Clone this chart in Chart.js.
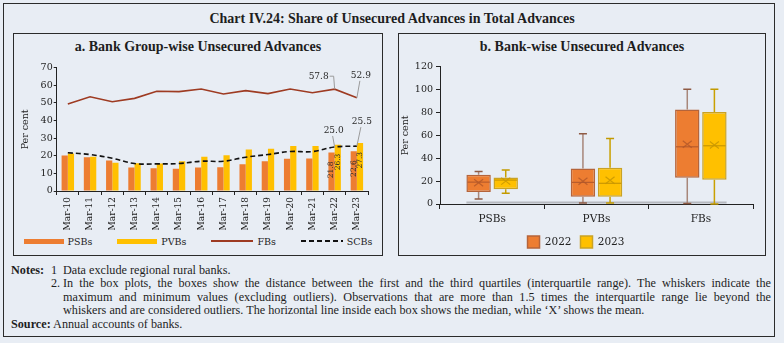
<!DOCTYPE html>
<html>
<head>
<meta charset="utf-8">
<script src="https://cdn.jsdelivr.net/npm/chart.js@4.4.0/dist/chart.umd.min.js"></script>
<style>
  html, body { margin: 0; padding: 0; background: #e8edf4; }
  #page { position: relative; width: 784px; height: 343px; background: #e8edf4; overflow: hidden; font-family: 'Liberation Serif', serif; color: #1e1e1e; }
  #frame { position: absolute; left: 3px; top: 3px; width: 772px; height: 334px; border: 1.5px solid #2b2b2b; box-sizing: border-box; }
  #title { position: absolute; left: 0; top: 11px; width: 784px; text-align: center; font-weight: bold; font-size: 14px; }
  .panel { position: absolute; top: 33px; height: 223px; border: 1.5px solid #2b2b2b; box-sizing: border-box; }
  .panel h2 { margin: 0; position: absolute; left: 0; right: 0; top: 5px; text-align: center; font-size: 14px; font-weight: bold; }
  #panelA { left: 13px; width: 370px; }
  #panelB { left: 398px; width: 368px; }
  .wrap { position: absolute; }
  #wrapA { left: 14px; top: 58px; width: 368px; height: 173px; }
  #wrapB { left: 399px; top: 58px; width: 366px; height: 200px; }
  #legendA { position: absolute; left: 14px; top: 234px; width: 368px; height: 14px; display: flex; justify-content: center; align-items: center;
      font-family: 'DejaVu Serif', serif; font-size: 9.5px; color: #222; }
  #legendA .item { display: flex; align-items: center; margin: 0 12.5px; }
  #legendA .item span.txt { margin-left: 4px; }
  #notes { position: absolute; left: 11px; top: 264px; width: 760px; font-size: 12.2px; line-height: 13.4px; }
  .row { display: flex; white-space: nowrap; }
  .lead { width: 40px; font-weight: bold; }
  .num { width: 12px; }
  .txt { flex: 1; }
  .just { text-align: justify; text-align-last: justify; white-space: normal; }
</style>
</head>
<body>
<div id="page">
  <div id="frame"></div>
  <div id="title">Chart IV.24: Share of Unsecured Advances in Total Advances</div>

  <div class="panel" id="panelA"><h2>a. Bank Group-wise Unsecured Advances</h2></div>
  <div class="panel" id="panelB"><h2>b. Bank-wise Unsecured Advances</h2></div>

  <div class="wrap" id="wrapA"><canvas id="groupChart"></canvas></div>
  <div id="legendA"></div>
  <div class="wrap" id="wrapB"><canvas id="bankChart"></canvas></div>

  <div id="notes">
    <div class="row"><span class="lead">Notes:</span><span class="num">1</span><span class="txt">Data exclude regional rural banks.</span></div>
    <div class="row"><span class="lead"></span><span class="num">2.</span><span class="txt just">In the box plots, the boxes show the distance between the first and the third quartiles (interquartile range). The whiskers indicate the</span></div>
    <div class="row"><span class="lead"></span><span class="num"></span><span class="txt just">maximum and minimum values (excluding outliers). Observations that are more than 1.5 times the interquartile range lie beyond the</span></div>
    <div class="row"><span class="lead"></span><span class="num"></span><span class="txt">whiskers and are considered outliers. The horizontal line inside each box shows the median, while ‘X’ shows the mean.</span></div>
    <div class="row"><span><b>Source:</b> Annual accounts of banks.</span></div>
  </div>
</div>

<script>
// a. bank group-wise shares (per cent)
const years = ['Mar-10', 'Mar-11', 'Mar-12', 'Mar-13', 'Mar-14', 'Mar-15', 'Mar-16',
    'Mar-17', 'Mar-18', 'Mar-19', 'Mar-20', 'Mar-21', 'Mar-22', 'Mar-23'];
const psbs = [20.1, 19.1, 17.3, 13.3, 12.9, 12.7, 13.3, 13.5, 15.2, 16.9, 18.3, 18.5, 21.8, 22.6];
const pvbs = [21.3, 19.5, 16.0, 15.8, 15.6, 16.9, 19.5, 20.3, 23.6, 24.0, 25.5, 25.5, 26.3, 27.3];
const fbs = [49.4, 53.5, 50.7, 52.6, 56.6, 56.4, 57.9, 55.1, 57.0, 55.3, 57.9, 55.8, 57.8, 52.9];
const scbs = [21.7, 20.7, 18.6, 15.6, 15.4, 15.6, 16.9, 16.9, 19.2, 20.7, 22.4, 22.4, 25.0, 25.5];
const groupTicks = [0, 10, 20, 30, 40, 50, 60, 70];

// b. bank-wise distribution (per cent)
const bankCats = ['PSBs', 'PVBs', 'FBs'];
const min22 = [4.3, 0.8, 0.5];
const q1_22 = [10.4, 6.3, 23.0];
const med22 = [19.1, 18.9, 50.0];
const q3_22 = [25.5, 31.0, 82.5];
const max22 = [28.4, 61.5, 100.3];
const mean22 = [18.5, 19.8, 52.3];
const min23 = [9.3, 0.8, 0.0];
const q1_23 = [12.8, 6.3, 21.3];
const med23 = [20.9, 18.1, 50.9];
const q3_23 = [23.2, 31.6, 80.4];
const max23 = [29.8, 57.2, 100.3];
const mean23 = [20.0, 20.7, 51.5];
const bankTicks = [0, 20, 40, 60, 80, 100, 120];

const ORANGE = '#ED7D31';
const GOLD = '#FFC000';
const FB_RED = '#9E3B22';
const INK = '#222';

Chart.defaults.font.family = "'DejaVu Serif', serif";
Chart.defaults.color = INK;
Chart.defaults.animation = false;

// callouts on the line series: [dataset label, index, dx, dy, leader style]
const callouts = [
    ['FBs', 12, -16, -13, 'elbow'],
    ['FBs', 13, 4, -22, 'straight'],
    ['SCBs', 12, -1, -16, 'straight'],
    ['SCBs', 13, 5, -24, 'straight'],
];

const groupLabels = {
    id: 'groupLabels',
    afterDatasetsDraw(chart) {
        const { ctx } = chart;
        ctx.save();

        // rotated values inside the last two pairs of bars
        ctx.font = "7.5px 'DejaVu Serif', serif";
        ctx.fillStyle = '#2a2a2a';
        ctx.textAlign = 'right';
        ctx.textBaseline = 'middle';
        chart.data.datasets.forEach((ds, d) => {
            if (ds.type === 'line') return;
            const meta = chart.getDatasetMeta(d);
            [12, 13].forEach(i => {
                const bar = meta.data[i];
                ctx.save();
                ctx.translate(bar.x, bar.y + 9);
                ctx.rotate(-Math.PI / 2);
                ctx.fillText(ds.data[i].toFixed(1), 0, 0);
                ctx.restore();
            });
        });

        // line callouts with leaders
        ctx.font = "9px 'DejaVu Serif', serif";
        ctx.textAlign = 'center';
        ctx.strokeStyle = '#9a9a9a';
        ctx.lineWidth = 1;
        callouts.forEach(([label, i, dx, dy, style]) => {
            const d = chart.data.datasets.findIndex(ds => ds.label === label);
            const pt = chart.getDatasetMeta(d).data[i];
            const text = chart.data.datasets[d].data[i].toFixed(1);
            const tx = pt.x + dx;
            const ty = pt.y + dy;
            ctx.beginPath();
            if (style === 'elbow') {
                const half = ctx.measureText(text).width / 2;
                ctx.moveTo(tx + half + 1, ty);
                ctx.lineTo(pt.x - 1, ty);
                ctx.lineTo(pt.x, pt.y);
            } else {
                ctx.moveTo(tx - 1, ty + 5);
                ctx.lineTo(pt.x, pt.y);
            }
            ctx.stroke();
            ctx.fillText(text, tx, ty);
        });
        ctx.restore();
    },
};

const groupChart = new Chart(document.getElementById('groupChart'), {
    type: 'bar',
    data: {
        labels: years,
        datasets: [
            { label: 'PSBs', data: psbs, backgroundColor: ORANGE, categoryPercentage: 0.56, barPercentage: 1, order: 2 },
            { label: 'PVBs', data: pvbs, backgroundColor: GOLD, categoryPercentage: 0.56, barPercentage: 1, order: 2 },
            { type: 'line', label: 'FBs', data: fbs, borderColor: FB_RED, borderWidth: 1.6, pointRadius: 0, tension: 0, order: 1 },
            { type: 'line', label: 'SCBs', data: scbs, borderColor: '#111', borderWidth: 1.6, borderDash: [5, 3], pointRadius: 0, tension: 0.4, order: 0 },
        ],
    },
    options: {
        responsive: true,
        maintainAspectRatio: false,
        layout: { padding: { left: 0, right: 14, top: 9.7, bottom: 0 } },
        plugins: {
            tooltip: { enabled: false },
            legend: { display: false },
        },
        scales: {
            x: {
                offset: true,
                grid: { drawOnChartArea: false, offset: true, tickLength: 4, color: INK },
                border: { color: INK, width: 1 },
                ticks: { autoSkip: false, minRotation: 90, maxRotation: 90, padding: 2, font: { size: 9 } },
                afterFit: s => { s.height = 40; },
            },
            y: {
                min: 0,
                max: 70,
                afterBuildTicks: s => { s.ticks = groupTicks.map(v => ({ value: v })); },
                grid: { drawOnChartArea: false, tickLength: 3, color: INK },
                border: { color: INK, width: 1 },
                ticks: { padding: 1, autoSkip: false, font: { size: 9.5 } },
                title: { display: true, text: 'Per cent', font: { size: 9.5 }, padding: { top: 6, bottom: 0 } },
                afterFit: s => { s.width = 42.7; },
            },
        },
    },
    plugins: [groupLabels],
});

// legend row for panel a, built from the chart's own datasets
document.getElementById('legendA').innerHTML = groupChart.data.datasets.map(ds => {
    const key = ds.type === 'line'
        ? `<svg width="42" height="6"><line x1="0" y1="3" x2="42" y2="3" stroke="${ds.borderColor}" stroke-width="2" stroke-dasharray="${(ds.borderDash || []).join(',')}"/></svg>`
        : `<span style="display:inline-block;width:40px;height:5px;background:${ds.backgroundColor}"></span>`;
    return `<span class="item">${key}<span class="txt">${ds.label}</span></span>`;
}).join('');

// whiskers, medians and means drawn over the floating q1-q3 bars
const boxStyles = [
    { min: min22, q1: q1_22, med: med22, q3: q3_22, max: max22, mean: mean22,
        whisker: '#a8877a', cap: '#8f5b44', median: '#b85c2c', meanMark: 'rgba(178, 86, 40, 0.8)' },
    { min: min23, q1: q1_23, med: med23, q3: q3_23, max: max23, mean: mean23,
        whisker: '#c9a000', cap: '#c29a00', median: '#c99700', meanMark: 'rgba(200, 150, 0, 0.85)' },
];

const boxPlot = {
    id: 'boxPlot',
    beforeDatasetsDraw(chart) {
        const { ctx } = chart;
        const y = chart.scales.y;
        const first = chart.getDatasetMeta(0).data[0];
        const last = chart.getDatasetMeta(1).data[bankCats.length - 1];
        ctx.save();
        ctx.strokeStyle = '#b6b9bf';
        ctx.lineWidth = 2;
        ctx.beginPath();
        ctx.moveTo(first.x - first.width / 2, y.getPixelForValue(0) - 1.5);
        ctx.lineTo(last.x + last.width / 2, y.getPixelForValue(0) - 1.5);
        ctx.stroke();

        boxStyles.forEach((s, d) => {
            chart.getDatasetMeta(d).data.forEach((bar, i) => {
                const yMax = y.getPixelForValue(s.max[i]);
                const yMin = y.getPixelForValue(s.min[i]);
                ctx.strokeStyle = s.whisker;
                ctx.lineWidth = 1.5;
                ctx.beginPath();
                ctx.moveTo(bar.x, yMax);
                ctx.lineTo(bar.x, y.getPixelForValue(s.q3[i]));
                ctx.moveTo(bar.x, y.getPixelForValue(s.q1[i]));
                ctx.lineTo(bar.x, yMin);
                ctx.stroke();
                ctx.strokeStyle = s.cap;
                ctx.beginPath();
                ctx.moveTo(bar.x - 4, yMax);
                ctx.lineTo(bar.x + 4, yMax);
                ctx.moveTo(bar.x - 4, yMin);
                ctx.lineTo(bar.x + 4, yMin);
                ctx.stroke();
            });
        });
        ctx.restore();
    },
    afterDatasetsDraw(chart) {
        const { ctx } = chart;
        const y = chart.scales.y;
        ctx.save();
        boxStyles.forEach((s, d) => {
            chart.getDatasetMeta(d).data.forEach((bar, i) => {
                const half = bar.width / 2 - 1;
                const ym = y.getPixelForValue(s.med[i]);
                ctx.strokeStyle = s.median;
                ctx.lineWidth = 1.2;
                ctx.beginPath();
                ctx.moveTo(bar.x - half, ym);
                ctx.lineTo(bar.x + half, ym);
                ctx.stroke();

                const ya = y.getPixelForValue(s.mean[i]);
                ctx.strokeStyle = s.meanMark;
                ctx.beginPath();
                ctx.moveTo(bar.x - 4.5, ya - 3.5);
                ctx.lineTo(bar.x + 4.5, ya + 3.5);
                ctx.moveTo(bar.x - 4.5, ya + 3.5);
                ctx.lineTo(bar.x + 4.5, ya - 3.5);
                ctx.stroke();
            });
        });
        ctx.restore();
    },
};

new Chart(document.getElementById('bankChart'), {
    type: 'bar',
    data: {
        labels: bankCats,
        datasets: [
            { label: '2022', data: bankCats.map((c, i) => [q1_22[i], q3_22[i]]),
                backgroundColor: ORANGE, borderColor: '#b5643a', borderWidth: 1.5, borderSkipped: false,
                categoryPercentage: 0.52, barPercentage: 0.9 },
            { label: '2023', data: bankCats.map((c, i) => [q1_23[i], q3_23[i]]),
                backgroundColor: GOLD, borderColor: '#c9a224', borderWidth: 1.5, borderSkipped: false,
                categoryPercentage: 0.52, barPercentage: 0.9 },
        ],
    },
    options: {
        responsive: true,
        maintainAspectRatio: false,
        layout: { padding: { left: 0, right: 12, top: 7.7, bottom: 0 } },
        plugins: {
            tooltip: { enabled: false },
            legend: {
                position: 'bottom',
                labels: { boxWidth: 12, boxHeight: 12, padding: 9, font: { size: 10.5 } },
            },
        },
        scales: {
            x: {
                offset: true,
                grid: { drawOnChartArea: false, offset: true, tickLength: 5, color: INK },
                border: { color: INK, width: 1 },
                ticks: { padding: 4, font: { size: 10.5 } },
                afterFit: s => { s.height = 23; },
            },
            y: {
                min: 0,
                max: 120,
                afterBuildTicks: s => { s.ticks = bankTicks.map(v => ({ value: v })); },
                grid: { drawOnChartArea: false, tickLength: 4, color: INK },
                border: { color: INK, width: 1 },
                ticks: { padding: 3, autoSkip: false, font: { size: 9.5 } },
                title: { display: true, text: 'Per cent', font: { size: 9.5 }, padding: { top: 1, bottom: 0 } },
                afterFit: s => { s.width = 41; },
            },
        },
    },
    plugins: [boxPlot],
});
</script>
</body>
</html>
